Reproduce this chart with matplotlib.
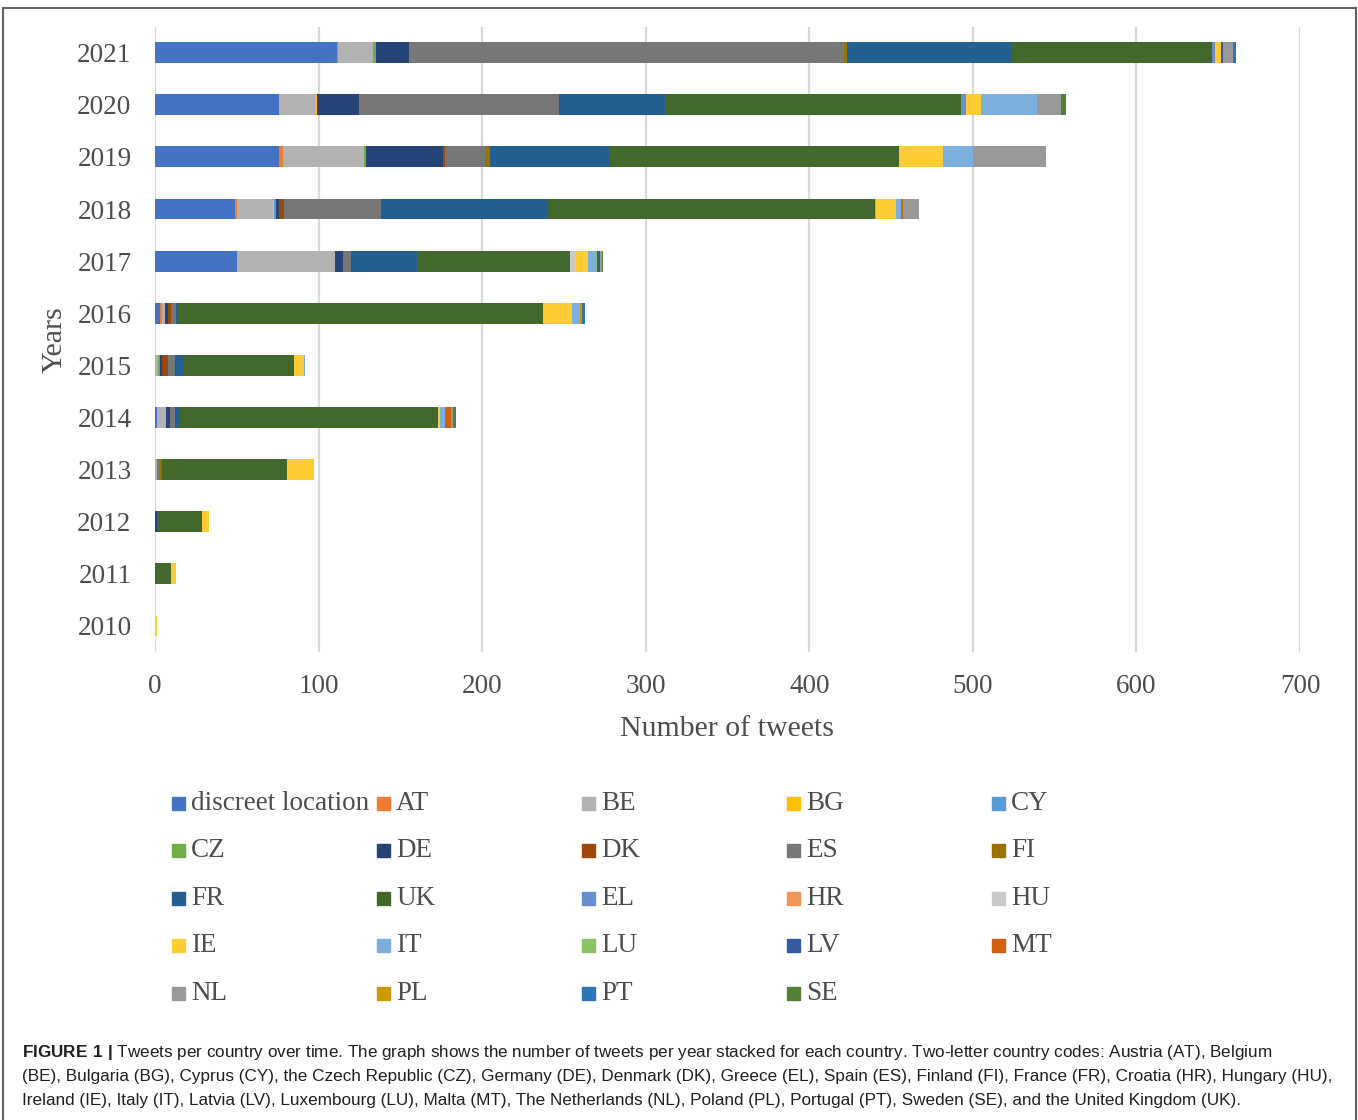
import numpy as np
import matplotlib
matplotlib.use("Agg")
import matplotlib.pyplot as plt
from matplotlib.patches import Rectangle
from matplotlib import font_manager

years = [2010, 2011, 2012, 2013, 2014, 2015, 2016, 2017, 2018, 2019, 2020, 2021]

countries = ["discreet location", "AT", "BE", "BG", "CY", "CZ", "DE", "DK", "ES", "FI",
             "FR", "UK", "EL", "HR", "HU", "IE", "IT", "LU", "LV", "MT",
             "NL", "PL", "PT", "SE"]
colors = ["#4472C4", "#ED7D31", "#B2B2B2", "#FFC000", "#5B9BD5", "#70AD47", "#264478",
          "#9E480E", "#777777", "#997300", "#255E91", "#43682B", "#698ED0", "#F1975A",
          "#C9C9C9", "#FFCD33", "#7CAFDD", "#8CC168", "#335AA1", "#D2600F",
          "#999999", "#CC9A00", "#2E75B6", "#548235"]

# tweets per year (2010 -> 2021) for each country
discreet = [0, 0, 0, 0, 1, 0, 3, 50, 49, 76, 76, 111]
at = [0, 0, 0, 0, 0, 0, 1, 0, 1, 2, 0, 1]
be = [0, 0, 0, 1, 6, 2, 2, 60, 22, 50, 22, 21]
bg = [0, 0, 0, 0, 0, 0, 0, 0, 1, 0, 1, 0]
cy = [0, 0, 0, 0, 0, 0, 0, 0, 1, 0, 0, 1]
cz = [0, 0, 0, 0, 0, 1, 0, 0, 0, 1, 0, 1]
de = [0, 0, 1, 0, 2, 1, 2, 5, 2, 47, 26, 20]
dk = [0, 0, 0, 0, 0, 4, 2, 0, 3, 1, 0, 0]
es = [0, 0, 0, 2, 3, 4, 3, 5, 59, 25, 122, 266]
fi = [0, 0, 0, 1, 0, 0, 0, 0, 0, 3, 0, 2]
fr = [0, 0, 1, 0, 3, 5, 1, 40, 102, 73, 65, 101]
uk = [0, 10, 27, 77, 158, 68, 223, 94, 200, 177, 181, 122]
el = [0, 0, 0, 0, 0, 0, 0, 0, 0, 0, 3, 2]
hr = [0, 0, 0, 0, 0, 0, 0, 0, 1, 0, 0, 0]
hu = [0, 0, 0, 0, 0, 0, 1, 3, 0, 0, 0, 0]
ie = [1, 3, 4, 16, 1, 6, 17, 8, 12, 27, 9, 4]
it = [0, 0, 0, 0, 3, 1, 5, 4, 3, 18, 34, 0]
lu = [0, 0, 0, 0, 0, 0, 0, 1, 0, 0, 0, 0]
lv = [0, 0, 0, 0, 0, 0, 0, 2, 0, 0, 0, 1]
mt = [0, 0, 0, 0, 4, 0, 0, 0, 1, 0, 0, 0]
nl = [0, 0, 0, 0, 1, 0, 0, 1, 10, 45, 15, 6]
pl = [0, 0, 0, 0, 0, 0, 1, 0, 0, 0, 0, 0]
pt = [0, 0, 0, 0, 0, 0, 2, 0, 0, 0, 0, 2]
se = [0, 0, 0, 0, 2, 0, 0, 1, 0, 0, 3, 0]

values = [discreet, at, be, bg, cy, cz, de, dk, es, fi, fr, uk,
          el, hr, hu, ie, it, lu, lv, mt, nl, pl, pt, se]

caption = [
    "Tweets per country over time. The graph shows the number of tweets per year stacked for each country. Two-letter country codes: Austria (AT), Belgium",
    "(BE), Bulgaria (BG), Cyprus (CY), the Czech Republic (CZ), Germany (DE), Denmark (DK), Greece (EL), Spain (ES), Finland (FI), France (FR), Croatia (HR), Hungary (HU),",
    "Ireland (IE), Italy (IT), Latvia (LV), Luxembourg (LU), Malta (MT), The Netherlands (NL), Poland (PL), Portugal (PT), Sweden (SE), and the United Kingdom (UK).",
]

serif = "Liberation Serif"
txt_col = "#4d4d4d"
installed = {f.name for f in font_manager.fontManager.ttflist}
sans = "Liberation Sans Narrow" if "Liberation Sans Narrow" in installed else "Liberation Sans"

W, H = 1358, 1120
fig = plt.figure(figsize=(W / 100, H / 100), dpi=100)
ax = fig.add_axes([155 / W, 1 - 652 / H, 1145 / W, (652 - 26.6) / H])

left = np.zeros(len(years))
for name, col, vals in zip(countries, colors, values):
    ax.barh(years, vals, left=left, height=0.4, color=col, label=name)
    left += np.array(vals)

ax.set_xlim(0, 700)
ax.set_ylim(2009.5, 2021.5)
ax.set_xticks(range(0, 701, 100))
ax.set_yticks(years)
ax.xaxis.grid(True, color="#D9D9D9", lw=1.6)
ax.set_axisbelow(True)
for s in ax.spines.values():
    s.set_visible(False)
ax.tick_params(length=0, labelsize=19.5, labelcolor=txt_col)
ax.tick_params(axis="y", pad=17)
ax.tick_params(axis="x", pad=16)
for lab in ax.get_xticklabels() + ax.get_yticklabels():
    lab.set_fontfamily(serif)
ax.set_xlabel("Number of tweets", fontsize=21.5, family=serif, color=txt_col, labelpad=12)
ax.set_ylabel("Years", fontsize=21.5, family=serif, color=txt_col, labelpad=7)

# legend laid out row by row, like the original
for i, (name, col) in enumerate(zip(countries, colors)):
    r, c = divmod(i, 5)
    x = 172 + c * 205
    y = 803 + r * 47.6
    fig.add_artist(Rectangle((x / W, 1 - (y + 6.5) / H), 13 / W, 13 / H,
                             transform=fig.transFigure, color=col))
    fig.text((x + 19) / W, 1 - y / H, name, fontsize=19.5, family=serif,
             color=txt_col, va="center", ha="left")

# frame around the figure
fig.add_artist(Rectangle((3 / W, -0.02), 1353 / W, 1.02 - 8 / H, fill=False,
                         transform=fig.transFigure, ec="#606060", lw=1.5))

# caption
plt.rcParams["mathtext.fontset"] = "custom"
plt.rcParams["mathtext.bf"] = sans + ":bold"
cap_col = "#231F20"
lines = [r"$\mathbf{FIGURE\ 1\ |}$ " + caption[0], caption[1], caption[2]]
ys = [1052, 1077, 1101]
texts = [fig.text(22 / W, 1 - y / H, t, fontsize=12, family=sans, color=cap_col,
                  va="center", ha="left") for t, y in zip(lines, ys)]
fig.canvas.draw()
rend = fig.canvas.get_renderer()
widest = max(t.get_window_extent(rend).width for t in texts)
fs = 12 * (1334 - 22) / widest
for t in texts:
    t.set_fontsize(fs)

fig.savefig("out.png", dpi=100)
